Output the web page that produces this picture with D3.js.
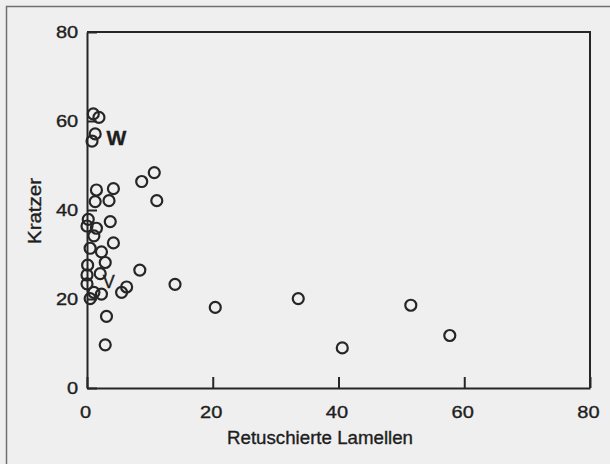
<!DOCTYPE html>
<html>
<head>
<meta charset="utf-8">
<script src="https://cdn.jsdelivr.net/npm/d3@7/dist/d3.min.js"></script>
<style>
  html, body { margin: 0; padding: 0; background: #efefef; }
  svg { display: block; }
  text { font-family: "Liberation Sans", Arial, Helvetica, sans-serif; fill: #1e1e1e; }
</style>
</head>
<body>
<div id="chart"></div>
<script>
// Retuschierte Lamellen (x) vs. Kratzer (y), one entry per site
const lamellen = [1.0, 1.9, 1.3, 0.8, 8.7, 10.7, 11.1, 1.5, 4.2, 1.3, 3.5, 0.2, 0.0, 3.7, 1.5, 1.1,
  4.2, 0.5, 2.3, 2.9, 0.1, 0.0, 8.4, 2.1, 0.0, 14.0, 6.3, 5.5, 1.1, 2.3, 0.5, 3.1, 2.9, 20.4,
  33.6, 51.5, 57.7, 40.6];
const kratzer = [61.6, 60.8, 57.1, 55.5, 46.4, 48.4, 42.1, 44.5, 44.8, 41.9, 42.1, 37.9, 36.4, 37.4, 35.9, 34.2,
  32.6, 31.4, 30.6, 28.2, 27.6, 25.4, 26.5, 25.7, 23.4, 23.3, 22.7, 21.5, 21.5, 21.1, 20.1, 16.1, 9.7, 18.1,
  20.1, 18.6, 11.8, 9.0];

const xTicks = [0, 20, 40, 60, 80];
const yTicks = [0, 20, 40, 60, 80];
const xTitle = "Retuschierte Lamellen";
const yTitle = "Kratzer";
const groupLabels = [
  { text: "W", x: 3.1, y: 54.6, bold: true },
  { text: "V", x: 2.5, y: 22.5, bold: false },
];

const width = 610;
const height = 464;
const ink = "#262626";

const svg = d3.select("#chart")
  .append("svg")
  .attr("width", width)
  .attr("height", height);

svg.append("rect")
  .attr("width", width)
  .attr("height", height)
  .attr("fill", "#efefef");

// scan frame around the figure (top and left edges visible)
svg.append("path")
  .attr("d", `M6.5,${height} V6.5 H${width}`)
  .attr("fill", "none")
  .attr("stroke", "#707070")
  .attr("stroke-width", 1.5);

const x = d3.scaleLinear().domain([0, 80]).range([87, 590]);
const y = d3.scaleLinear().domain([0, 80]).range([388, 32]);

function heavyText(sel) {
  sel.attr("fill", "#1e1e1e").attr("stroke", "#1e1e1e").attr("stroke-width", 0.35);
}

svg.append("g")
  .attr("transform", `translate(0,${y(0)})`)
  .call(d3.axisBottom(x).tickValues(xTicks).tickSize(-11).tickSizeOuter(0).tickPadding(19))
  .call((g) => g.select(".domain").attr("stroke", ink).attr("stroke-width", 2))
  .call((g) => g.selectAll(".tick line").attr("stroke", ink).attr("stroke-width", 2))
  .call((g) => g.selectAll(".tick text")
    .attr("font-size", 16)
    .call(heavyText)
    .attr("transform", "translate(-2,0) scale(1.25,1)"));

svg.append("g")
  .attr("transform", `translate(${x(0)},0)`)
  .call(d3.axisLeft(y).tickValues(yTicks).tickSize(-10).tickSizeOuter(0).tickPadding(7))
  .call((g) => g.select(".domain").attr("stroke", ink).attr("stroke-width", 2))
  .call((g) => g.selectAll(".tick line").attr("stroke", ink).attr("stroke-width", 2))
  .call((g) => g.selectAll(".tick text")
    .attr("font-size", 16)
    .call(heavyText)
    .attr("transform", "scale(1.25,1)"));

// top and right edges of the plot box
svg.append("path")
  .attr("d", `M${x(0)},${y(80)} H${x(80)} V${y(0)}`)
  .attr("fill", "none")
  .attr("stroke", ink)
  .attr("stroke-width", 2);

svg.append("g")
  .selectAll("circle")
  .data(lamellen.map((v, i) => [v, kratzer[i]]))
  .join("circle")
  .attr("cx", (d) => x(d[0]))
  .attr("cy", (d) => y(d[1]))
  .attr("r", 5.5)
  .attr("fill", "none")
  .attr("stroke", ink)
  .attr("stroke-width", 2.2);

svg.append("g")
  .selectAll("text")
  .data(groupLabels)
  .join("text")
  .attr("x", (d) => x(d.x))
  .attr("y", (d) => y(d.y))
  .attr("font-size", (d) => (d.bold ? 21 : 18))
  .attr("font-weight", (d) => (d.bold ? "bold" : "normal"))
  .call(heavyText)
  .text((d) => d.text);

svg.append("text")
  .attr("x", 320)
  .attr("y", 444)
  .attr("text-anchor", "middle")
  .attr("font-size", 17.5)
  .attr("textLength", 186)
  .attr("lengthAdjust", "spacingAndGlyphs")
  .call(heavyText)
  .text(xTitle);

svg.append("text")
  .attr("transform", `translate(41,${(y(0) + y(80)) / 2 + 1}) rotate(-90)`)
  .attr("text-anchor", "middle")
  .attr("font-size", 17.5)
  .attr("textLength", 66)
  .attr("lengthAdjust", "spacingAndGlyphs")
  .call(heavyText)
  .text(yTitle);
</script>
</body>
</html>
